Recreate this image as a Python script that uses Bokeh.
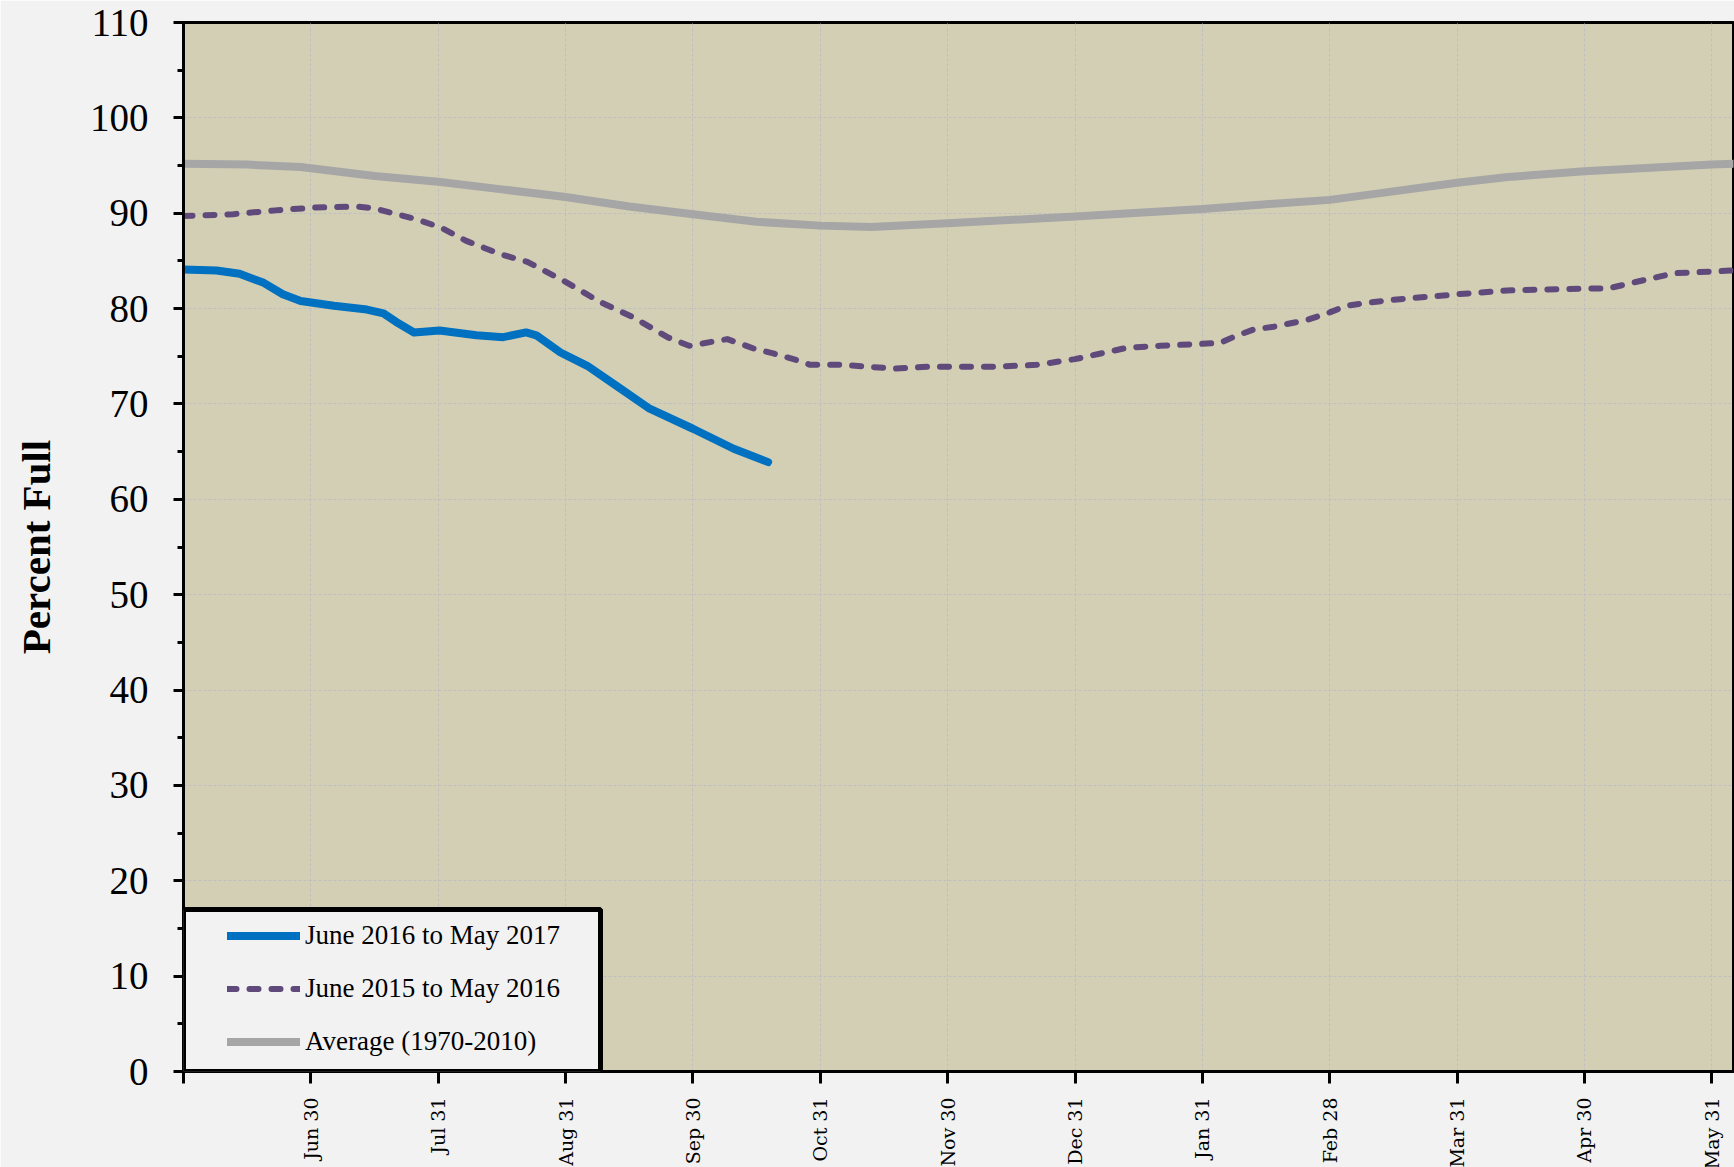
import math
from bokeh.plotting import figure
from bokeh.models import (FixedTicker, Legend, LegendItem, BoxAnnotation, Label, Range1d)
from bokeh.embed import file_html
from bokeh.resources import INLINE

# ---------------- data ----------------
chart_title = "10/17/2016"
y_label = "Percent Full"

month_ticks = [0, 1, 2, 3, 4, 5, 6, 7, 8, 9, 10, 11, 12]
month_labels = ["", "Jun 30", "Jul 31", "Aug 31", "Sep 30", "Oct 31", "Nov 30",
                "Dec 31", "Jan 31", "Feb 28", "Mar 31", "Apr 30", "May 31"]
y_ticks = [0, 10, 20, 30, 40, 50, 60, 70, 80, 90, 100, 110]
y_minor = [0, 5, 10, 15, 20, 25, 30, 35, 40, 45, 50, 55, 60, 65, 70, 75, 80, 85,
           90, 95, 100, 105, 110]

series_names = ["June 2016 to May 2017", "June 2015 to May 2016", "Average (1970-2010)"]

# month position (months after May 31)
wy2016_x = [0.0, 0.26, 0.44, 0.63, 0.78, 0.92, 1.18, 1.44, 1.57, 1.67, 1.81, 2.01,
            2.30, 2.51, 2.69, 2.77, 2.96, 3.17, 3.40, 3.66, 4.0, 4.32, 4.59]
wy2016_pct = [84.1, 84.0, 83.65, 82.7, 81.5, 80.8, 80.3, 79.9, 79.5, 78.6, 77.5, 77.7,
              77.2, 77.0, 77.5, 77.2, 75.4, 74.0, 71.9, 69.5, 67.4, 65.3, 63.9]

wy2015_x = [0.0, 0.39, 0.72, 1.04, 1.37, 1.50, 1.82, 2.02, 2.22, 2.49, 2.70, 3.0,
            3.27, 3.53, 3.80, 3.97, 4.27, 4.48, 4.63, 4.84, 4.92, 5.18, 5.58, 5.84,
            6.36, 6.70, 7.0, 7.41, 7.67, 8.14, 8.24, 8.40, 8.56, 8.82, 9.0, 9.13, 9.47,
            10.0, 10.39, 11.0, 11.18, 11.57, 11.70, 12.17]
wy2015_pct = [89.7, 89.9, 90.3, 90.6, 90.7, 90.5, 89.4, 88.5, 87.1, 85.7, 84.9, 82.8,
              80.7, 79.1, 77.0, 76.1, 76.8, 75.8, 75.3, 74.5, 74.1, 74.1, 73.7, 73.9,
              73.9, 74.1, 74.7, 75.9, 76.1, 76.4, 77.0, 77.8, 78.1, 78.8, 79.6, 80.3, 80.9,
              81.5, 81.9, 82.1, 82.1, 83.3, 83.7, 84.0]

avg_x = [0.0, 0.5, 0.92, 1.5, 2.0, 2.5, 3.0, 3.5, 4.0, 4.5, 5.0, 5.4, 6.0, 7.0, 8.0,
         8.45, 9.0, 9.34, 10.0, 10.4, 11.0, 12.0, 12.17]
avg_pct = [95.2, 95.1, 94.85, 93.9, 93.3, 92.5, 91.7, 90.7, 89.9, 89.1, 88.7, 88.55,
           88.95, 89.65, 90.45, 90.9, 91.4, 92.0, 93.2, 93.8, 94.4, 95.1, 95.2]

# ---------------- layout ----------------
ML, MR, MT, MB = 183, 1, 22, 96
FW, FH = 1550, 1049
X_END = 12.17
Y_END = 110
px_per_x = FW / X_END
px_per_y = FH / Y_END

SERIF = "Liberation Serif"

p = figure(frame_width=FW, frame_height=FH,
           x_range=Range1d(0, X_END), y_range=Range1d(0, Y_END),
           output_backend="svg", toolbar_location=None,
           min_border_left=ML, min_border_right=MR, min_border_top=MT, min_border_bottom=MB,
           background_fill_color="#d3cfb4", border_fill_color="#f2f2f2",
           outline_line_color="black", outline_line_width=3)

# axes
xa = p.xaxis[0]
xa.ticker = FixedTicker(ticks=month_ticks)
xa.major_label_overrides = {t: lab for t, lab in zip(month_ticks, month_labels)}
xa.major_label_orientation = math.pi / 2
xa.major_label_text_font = "DejaVu Serif"
xa.major_label_text_font_size = "19px"
xa.major_label_text_color = "black"
xa.major_label_standoff = 14
xa.major_tick_out = 12
xa.major_tick_in = 0
xa.minor_tick_line_color = None
xa.major_tick_line_width = 3
xa.axis_line_width = 3
xa.axis_line_color = "black"

ya = p.yaxis[0]
ya.ticker = FixedTicker(ticks=y_ticks, minor_ticks=y_minor)
ya.major_label_text_font = SERIF
ya.major_label_text_font_size = "39px"
ya.major_label_text_color = "black"
ya.major_label_standoff = 25
ya.major_tick_out = 10
ya.major_tick_in = 0
ya.minor_tick_out = 6
ya.minor_tick_in = 0
ya.major_tick_line_width = 3
ya.minor_tick_line_width = 3
ya.axis_line_width = 3
ya.axis_line_color = "black"
ya.axis_label = y_label
ya.axis_label_text_font = SERIF
ya.axis_label_text_font_style = "bold"
ya.axis_label_text_font_size = "41px"
ya.axis_label_text_color = "black"
ya.axis_label_standoff = 28

# grids
p.xgrid.ticker = FixedTicker(ticks=month_ticks)
for g in (p.xgrid[0], p.ygrid[0]):
    g.grid_line_color = "#bdbdc0"
    g.grid_line_width = 1
    g.grid_line_dash = "3 2"
    g.grid_line_alpha = 0.9

# series
r_avg = p.line(avg_x, avg_pct, line_color="#a6a6a6", line_width=8,
               line_cap="round", line_join="round")
r_15 = p.line(wy2015_x, wy2015_pct, line_color="#604a7b", line_width=6,
              line_dash="9 13", line_cap="round", line_join="round")
r_16 = p.line(wy2016_x, wy2016_pct, line_color="#0070c0", line_width=8,
              line_cap="round", line_join="round")

# legend frame
LEG_W_PX, LEG_H_PX = 417, 162
box = BoxAnnotation(left=0, right=LEG_W_PX / px_per_x, bottom=0, top=LEG_H_PX / px_per_y,
                    fill_color="#f2f2f2", fill_alpha=1.0,
                    line_color="black", line_alpha=1.0, line_width=5)
p.add_layout(box)

legend = Legend(items=[LegendItem(label=series_names[0], renderers=[r_16]),
                       LegendItem(label=series_names[1], renderers=[r_15]),
                       LegendItem(label=series_names[2], renderers=[r_avg])],
                location=(0, -30), padding=44, spacing=22, margin=0,
                glyph_width=73, glyph_height=31, label_height=31, label_standoff=5,
                label_text_font=SERIF, label_text_font_size="27px",
                label_text_color="black",
                background_fill_alpha=0, border_line_alpha=0)
p.add_layout(legend)

# title (cut off at the top as in the source image)
title = Label(x=743, y=FH + 17, x_units="screen", y_units="screen",
              text=chart_title, text_font=SERIF, text_font_style="bold",
              text_font_size="42px", text_align="center", text_baseline="alphabetic",
              text_color="black")
p.add_layout(title)

open("out.html", "w").write(file_html(p, INLINE))
